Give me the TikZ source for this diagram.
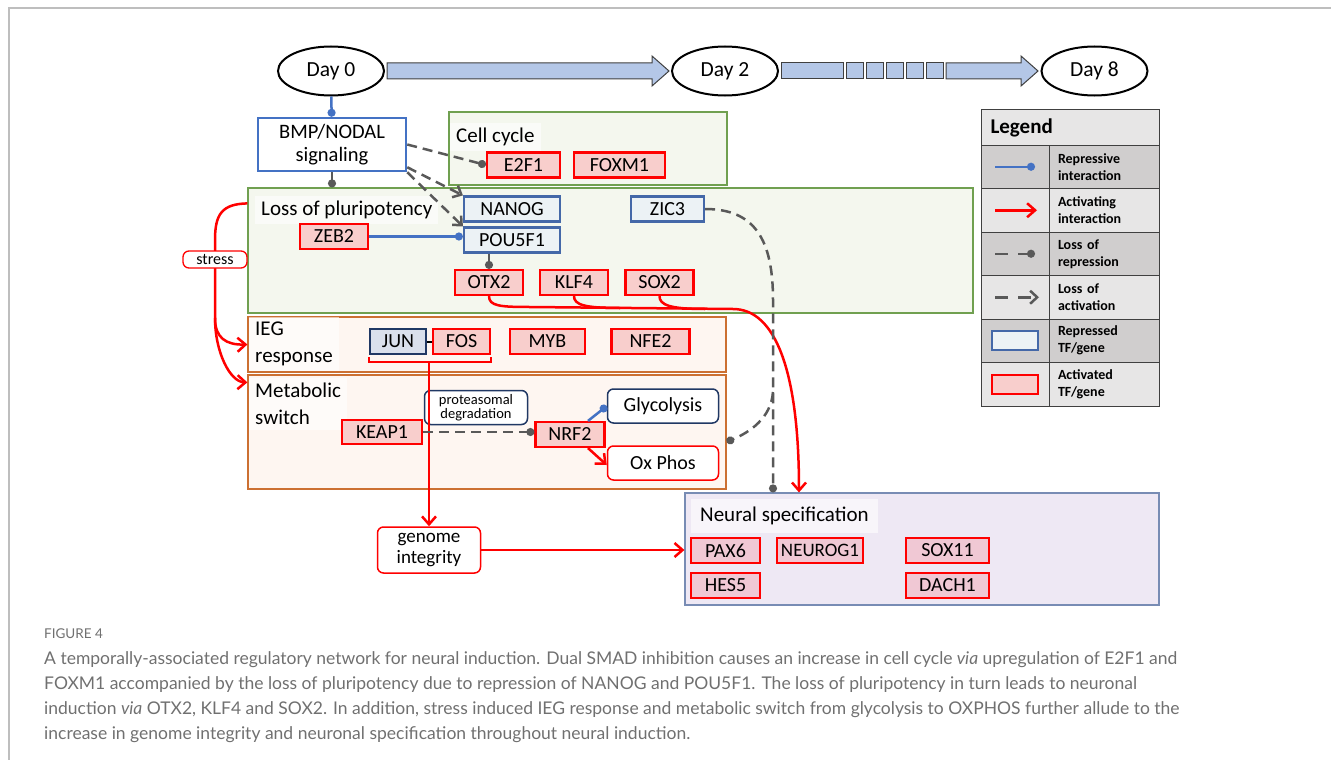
\documentclass[tikz,border=0pt]{standalone}
\usepackage{fontspec}
\setmainfont{Carlito}
\newfontfamily\capfont{Lato}
\usetikzlibrary{arrows.meta,shapes.geometric,positioning}

\definecolor{actred}{RGB}{255,0,0}
\definecolor{actfill}{RGB}{248,206,204}
\definecolor{neufill}{RGB}{240,200,212}
\definecolor{repline}{RGB}{68,104,168}
\definecolor{repfill}{RGB}{236,242,245}
\definecolor{navy}{RGB}{32,56,100}
\definecolor{junfill}{RGB}{218,224,236}
\definecolor{bmpblue}{RGB}{68,114,196}
\definecolor{grnline}{RGB}{112,160,80}
\definecolor{grnfill}{RGB}{244,247,238}
\definecolor{orgline}{RGB}{204,112,50}
\definecolor{orgfill}{RGB}{254,246,241}
\definecolor{neuline}{RGB}{120,140,180}
\definecolor{neubg}{RGB}{238,232,244}
\definecolor{dashgray}{RGB}{89,89,89}
\definecolor{dayfill}{RGB}{180,199,231}
\definecolor{legdark}{RGB}{208,206,206}
\definecolor{leglight}{RGB}{231,230,230}
\definecolor{capgray}{RGB}{112,112,112}
\definecolor{framegray}{RGB}{190,190,190}

\begin{document}
\begin{tikzpicture}[
    x=1pt, y=-1pt,
    every node/.style={font=\fontsize{20}{24}\selectfont},
    day/.style={ellipse, draw, line width=2pt, fill=white, minimum width=106pt, minimum height=49pt, inner sep=0pt,
                font=\fontsize{21.5}{24}\selectfont},
    act/.style={draw=actred, fill=actfill, line width=2.2pt, minimum height=25pt, inner sep=0pt},
    rep/.style={draw=repline, fill=repfill, line width=2.2pt, minimum height=25pt, inner sep=0pt},
    region/.style={draw=#1, line width=1.2pt, inner sep=0pt},
    reglabel/.style={anchor=west, fill=white, fill opacity=0.6, text opacity=1, inner xsep=6pt, inner ysep=5pt, align=left,
                     font=\fontsize{21}{27}\selectfont},
    roundbox/.style={draw=#1, fill=white, rounded corners=6pt, line width=1.5pt, inner sep=0pt, align=center},
    repress/.style={draw=bmpblue, line width=2.5pt, -{Circle[length=8pt]}},
    activate/.style={draw=actred, line width=2.5pt, -{Straight Barb[length=8pt,width=14pt]}},
    redline/.style={draw=actred, line width=2.5pt},
    grayrep/.style={draw=dashgray, line width=2.5pt, -{Circle[length=8pt]}},
    lossrep/.style={draw=dashgray, line width=2.5pt, dash pattern=on 10pt off 6pt, -{Circle[length=8pt]}},
    lossact/.style={draw=dashgray, line width=2.5pt, dash pattern=on 10pt off 6pt, -{Straight Barb[length=7pt,width=13pt]}},
    bigarrow/.style={draw=black!75, fill=dayfill, line width=1pt},
    legcell/.style={draw=black!75, line width=1pt, inner sep=0pt, minimum height=43.5pt},
    capline/.style={anchor=base west, inner sep=0pt, text=capgray, font=\capfont\fontsize{17.5}{20}\selectfont}
]
\useasboundingbox (0,0) rectangle (1331,760);
\draw[framegray, line width=1.5pt] (9,760) -- (9,8) -- (1331,8);

% ---------------- Time line ----------------
\node[day] (d0) at (331,71) {Day 0};
\node[day] (d2) at (725,71) {Day 2};
\node[day] (d8) at (1094.5,71) {Day 8};

\draw[bigarrow] (387,63) -- (652,63) -- (652,56) -- (669,71) -- (652,86) -- (652,79) -- (387,79) -- cycle;
\draw[bigarrow] (781,63) rectangle (843,79);
\foreach \s in {0,...,4}
    \draw[bigarrow] ({846+20*\s},63) rectangle ({863+20*\s},79);
\draw[bigarrow] (946,63) -- (1021,63) -- (1021,56) -- (1038,71) -- (1021,86) -- (1021,79) -- (946,79) -- cycle;

% ---------------- Regions ----------------
\node[region=grnline, fill=grnfill, minimum width=278pt, minimum height=73pt] (cellcyc) at (588,148.5) {};
\node[region=grnline, fill=grnfill, minimum width=725pt, minimum height=125pt] (plurip) at (610.5,250.5) {};
\node[region=orgline, fill=orgfill, minimum width=478pt, minimum height=55pt] (ieg) at (487,344.5) {};
\node[region=orgline, fill=orgfill, minimum width=478pt, minimum height=114pt] (metab) at (487,432) {};
\node[region=neuline, fill=neubg, minimum width=474pt, minimum height=112pt] (neural) at (922,549) {};

\node[reglabel] (cclab) at (450,137) {Cell cycle};
\node[reglabel] (pllab) at (255,210) {Loss of pluripotency};
\node[reglabel] (ieglab) at (249,344) {IEG\\response};
\node[reglabel] (mblab) at (249,404) {Metabolic\\switch};
\node[reglabel, inner xsep=9pt, inner ysep=8pt] (nslab) at (691,516) {Neural specification};

% ---------------- Genes ----------------
\node[rep, draw=bmpblue, fill=white, line width=2.5pt, minimum width=148pt, minimum height=53pt, align=center,
      font=\fontsize{20.5}{23}\selectfont] (bmp) at (332,144.5) {BMP/NODAL\\signaling};

\node[act, minimum width=73pt] (e2f1) at (523.5,165) {E2F1};
\node[act, minimum width=91pt] (foxm1) at (619.5,165) {FOXM1};

\node[rep, minimum width=96pt] (nanog) at (512,209) {NANOG};
\node[rep, minimum width=96pt] (pou5f1) at (512,240) {POU5F1};
\node[rep, minimum width=73pt] (zic3) at (667.5,209) {ZIC3};
\node[act, minimum width=68pt] (zeb2) at (334,236.5) {ZEB2};
\node[act, minimum width=68pt] (otx2) at (489,282.5) {OTX2};
\node[act, minimum width=68pt] (klf4) at (574,282.5) {KLF4};
\node[act, minimum width=68pt] (sox2) at (659.5,282.5) {SOX2};

\node[rep, draw=navy, fill=junfill, minimum width=56pt] (jun) at (398,341.5) {JUN};
\node[act, minimum width=57pt] (fos) at (461.5,341.5) {FOS};
\node[act, minimum width=75pt] (myb) at (547.5,341.5) {MYB};
\node[act, minimum width=78pt] (nfe2) at (650.5,341.5) {NFE2};

\node[act, minimum width=80pt, minimum height=24pt] (keap1) at (382,432) {KEAP1};
\node[act, minimum width=69pt] (nrf2) at (570,434.5) {NRF2};
\node[roundbox=navy, minimum width=103pt, minimum height=34pt, font=\fontsize{14.5}{14}\selectfont] (degr) at (476,407.5) {proteasomal\\degradation};
\node[roundbox=navy, minimum width=111pt, minimum height=34pt] (glyco) at (663,406) {Glycolysis};
\node[roundbox=actred, minimum width=111pt, minimum height=34pt] (oxphos) at (663,463) {Ox Phos};

\node[roundbox=actred, minimum width=103pt, minimum height=46pt, font=\fontsize{19}{21}\selectfont] (genome) at (429,550) {genome\\integrity};

\node[act, fill=neufill, minimum width=69pt] (pax6) at (725.5,550.5) {PAX6};
\node[act, fill=neufill, minimum width=86pt, font=\fontsize{19}{24}\selectfont] (neurog1) at (820,550.5) {NEUROG1};
\node[act, fill=neufill, minimum width=83pt] (sox11) at (947.5,550.5) {SOX11};
\node[act, fill=neufill, minimum width=69pt] (hes5) at (725.5,585.5) {HES5};
\node[act, fill=neufill, minimum width=83pt] (dach1) at (947.5,585.5) {DACH1};

% ---------------- Interactions ----------------
\draw[repress] (d0) -- (bmp);
\draw[grayrep] (bmp.south) -- (bmp.south |- plurip.north);
\draw[lossrep] (bmp.east) -- (e2f1.west);
\draw[lossact] ([yshift=5pt]bmp.south east) -- (nanog.north west);
\draw[lossact] (bmp.south east) -- (pou5f1.north west);
\draw[repress] (zeb2.east) -- (zeb2.east -| pou5f1.west);
\draw[grayrep] (otx2.north |- pou5f1.south) -- (otx2.north);

% pluripotency genes to neural specification
\coordinate (nsin) at ([xshift=-123pt]neural.north);
\coordinate (zin) at ([xshift=-149pt]neural.north);
\draw[activate] (otx2.south) .. controls (489,306) and (500,307) .. (530,307) -- (733,309)
    .. controls (775,309) and (799,370) .. (nsin);
\draw[redline] (klf4.south) .. controls (574,305) and (585,308) .. (620,308);
\draw[redline] (sox2.south) .. controls (659.5,305) and (670,309) .. (705,309);

% ZIC3
\draw[lossrep] (zic3.east) .. controls (755,209) and (773,240) .. (773,300) -- (zin);
\coordinate (zbr) at (773,392);
\draw[lossrep] (zbr) .. controls (771,418) and (750,432) .. ([yshift=-10pt]metab.east);

% stress
\coordinate (sj) at (215,318);
\draw[redline] ([yshift=-16pt]plurip.north west) .. controls (222,204) and (215,214) .. (215,240) -- (sj);
\draw[activate] (sj) .. controls (215,338) and (226,345) .. (ieg.west);
\draw[activate] (sj) .. controls (215,352) and (230,382) .. ([yshift=-8pt]metab.north west);
\node[roundbox=actred, line width=1.3pt, minimum width=64pt, minimum height=17pt, font=\fontsize{16}{16}\selectfont] (stress) at (215,259.5) {stress};

% IEG
\draw[black, line width=2pt] (jun) -- (fos);
\coordinate (brk) at (429,362);
\draw[redline] ([yshift=-2pt]jun.south west) -- (jun.south west |- brk) -- (fos.south east |- brk) -- ([yshift=-2pt]fos.south east);
\draw[activate] (brk) -- (genome.north);
\draw[activate] (genome.east) -- (genome.east -| neural.west);

% metabolic switch
\draw[lossrep] (keap1.east) -- (keap1.east -| nrf2.west);
\draw[repress] ([xshift=18pt]nrf2.north) -- (glyco.west);
\draw[activate] ([xshift=18pt]nrf2.south) -- ([yshift=-2pt]oxphos.west);

% ---------------- Legend ----------------
\node[legcell, fill=leglight, minimum width=178pt, minimum height=36pt, anchor=north west, text width=160pt,
      inner xsep=9pt, font=\bfseries\fontsize{21}{24}\selectfont] (leg) at (981,109) {Legend};
\foreach \i/\shade/\lab in {1/legdark/{Repressive\\interaction}, 2/leglight/{Activating\\interaction},
        3/legdark/{Loss of\\repression}, 4/leglight/{Loss of\\activation},
        5/legdark/{Repressed\\TF/gene}, 6/leglight/{Activated\\TF/gene}} {
    \node[legcell, fill=\shade, minimum width=68pt] (legs\i) at (1015,{145+43.5*(\i-0.5)}) {};
    \node[legcell, fill=\shade, text width=92pt, inner xsep=9pt, align=left,
          font=\bfseries\fontsize{14}{17}\selectfont] (legt\i) at (1104,{145+43.5*(\i-0.5)}) {\lab};
}
\draw[repress] ([xshift=-20pt]legs1.center) -- ([xshift=20pt]legs1.center);
\draw[activate] ([xshift=-20pt]legs2.center) -- ([xshift=22pt]legs2.center);
\draw[lossrep, dash pattern=on 13pt off 10pt] ([xshift=-20pt]legs3.center) -- ([xshift=20pt]legs3.center);
\draw[lossact, dash pattern=on 13pt off 10pt] ([xshift=-20pt]legs4.center) -- ([xshift=24pt]legs4.center);
\node[rep, minimum width=46pt, minimum height=19pt] (legrep) at (legs5) {};
\node[act, minimum width=46pt, minimum height=19pt] (legact) at (legs6) {};

% ---------------- Caption ----------------
\node[capline, font=\capfont\fontsize{13.5}{13}\selectfont] (fig) at (44,638) {FIGURE 4};
\node[capline] (cap1) at (44,664) {A temporally-associated regulatory network for neural induction. Dual SMAD inhibition causes an increase in cell cycle \textit{via} upregulation of E2F1 and};
\node[capline] (cap2) at (44,689) {FOXM1 accompanied by the loss of pluripotency due to repression of NANOG and POU5F1. The loss of pluripotency in turn leads to neuronal};
\node[capline] (cap3) at (44,714) {induction \textit{via} OTX2, KLF4 and SOX2. In addition, stress induced IEG response and metabolic switch from glycolysis to OXPHOS further allude to the};
\node[capline] (cap4) at (44,739) {increase in genome integrity and neuronal specification throughout neural induction.};

\end{tikzpicture}
\end{document}
